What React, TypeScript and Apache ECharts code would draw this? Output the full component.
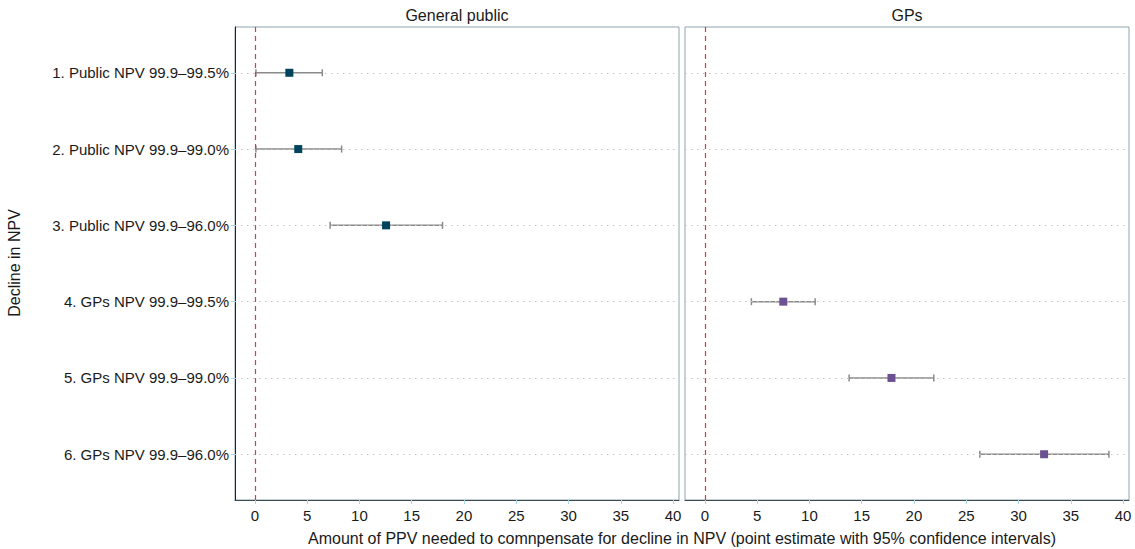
import React, { useEffect, useRef } from "react";
import * as echarts from "echarts";

const categories = [
  "1. Public NPV 99.9–99.5%",
  "2. Public NPV 99.9–99.0%",
  "3. Public NPV 99.9–96.0%",
  "4. GPs NPV 99.9–99.5%",
  "5. GPs NPV 99.9–99.0%",
  "6. GPs NPV 99.9–96.0%",
];
const panelOf = [0, 0, 0, 1, 1, 1];
const pointEstimates = [3.3, 4.15, 12.55, 7.5, 17.85, 32.45];
const ciLower = [0.1, 0.1, 7.2, 4.45, 13.8, 26.3];
const ciUpper = [6.45, 8.3, 17.95, 10.55, 21.9, 38.65];
const panelTitles = ["General public", "GPs"];
const xTicks = [0, 5, 10, 15, 20, 25, 30, 35, 40];
const rowValues = [1, 2, 3, 4, 5, 6];
const markerColors = ["#00435e", "#6b5191"];

const FONT = "Liberation Sans, Arial, Helvetica, sans-serif";

export default function App() {
  const ref = useRef<HTMLDivElement>(null);
  useEffect(() => {
    if (!ref.current) return;
    const chart = echarts.init(ref.current, null, { renderer: "svg" });
    const grids = [
      { left: 235, top: 27, width: 444, height: 473 },
      { left: 685, top: 27, width: 444, height: 473 },
    ].map((g) => ({ ...g, show: true, borderColor: "#8fa5ad", borderWidth: 1, containLabel: false }));

    const xAxes = [0, 1].map((i) => ({
      type: "value",
      gridIndex: i,
      min: -1.9,
      max: 40.57,
      axisLine: { show: true, onZero: false, lineStyle: { color: "#3b4a50", width: 1 } },
      axisTick: { show: true, customValues: xTicks, length: 4, lineStyle: { color: "#a9d6e3" } },
      axisLabel: { customValues: xTicks, color: "#1a1a1a", fontSize: 15, fontFamily: FONT, margin: 8 },
      splitLine: { show: false },
    }));

    const yAxes = [0, 1].map((i) => ({
      type: "value",
      gridIndex: i,
      min: 0.4,
      max: 6.6,
      inverse: true,
      axisLine: { show: i === 0, onZero: false, lineStyle: { color: "#222", width: 1 } },
      axisTick: { show: i === 0, customValues: rowValues, length: 4, lineStyle: { color: "#a9d6e3" } },
      axisLabel: {
        show: i === 0,
        customValues: rowValues,
        formatter: (v: number) => categories[Math.round(v) - 1] ?? "",
        color: "#1a1a1a",
        fontSize: 15,
        fontFamily: FONT,
        margin: 6,
      },
      splitLine: { show: false },
    }));

    const series: any[] = [];
    [0, 1].forEach((p) => {
      const idx = categories.map((_, i) => i).filter((i) => panelOf[i] === p);
      series.push({
        type: "scatter",
        xAxisIndex: p,
        yAxisIndex: p,
        z: 1,
        silent: true,
        symbolSize: 0,
        data: [],
        markLine: {
          silent: true,
          symbol: "none",
          label: { show: false },
          animation: false,
          data: [
            ...rowValues.map((r) => ({
              yAxis: r,
              lineStyle: { color: "#c4c4c4", type: [1.5, 4.5], width: 1.2 },
            })),
            { xAxis: 0, lineStyle: { color: "#e0383f", type: [5, 4], width: 1.2 } },
          ],
        },
      });
      series.push({
        type: "custom",
        xAxisIndex: p,
        yAxisIndex: p,
        z: 3,
        silent: true,
        data: idx.map((i) => [ciLower[i], ciUpper[i], i + 1]),
        encode: { x: [0, 1], y: 2 },
        renderItem: (params: any, api: any) => {
          const lo = api.coord([api.value(0), api.value(2)]);
          const hi = api.coord([api.value(1), api.value(2)]);
          const style = { stroke: "#8a8a8a", lineWidth: 1.5 };
          const cap = 3.5;
          return {
            type: "group",
            children: [
              { type: "line", shape: { x1: lo[0], y1: lo[1], x2: hi[0], y2: hi[1] }, style },
              { type: "line", shape: { x1: lo[0], y1: lo[1] - cap, x2: lo[0], y2: lo[1] + cap }, style },
              { type: "line", shape: { x1: hi[0], y1: hi[1] - cap, x2: hi[0], y2: hi[1] + cap }, style },
            ],
          };
        },
      });
      series.push({
        type: "scatter",
        xAxisIndex: p,
        yAxisIndex: p,
        z: 5,
        symbol: "rect",
        symbolSize: 8,
        itemStyle: { color: markerColors[p], opacity: 1, borderWidth: 0 },
        data: idx.map((i) => [pointEstimates[i], i + 1]),
      });
    });

    chart.setOption({
      animation: false,
      backgroundColor: "#ffffff",
      grid: grids,
      xAxis: xAxes,
      yAxis: yAxes,
      series,
      graphic: [
        ...panelTitles.map((t, i) => ({
          type: "text",
          x: 235 + i * 450 + 222,
          y: 15,
          style: { text: t, font: `16px ${FONT}`, fill: "#1a1a1a", align: "center", verticalAlign: "middle" },
        })),
        {
          type: "text",
          x: 682,
          y: 538,
          style: {
            text: "Amount of PPV needed to comnpensate for decline in NPV (point estimate with 95% confidence intervals)",
            font: `16px ${FONT}`,
            fill: "#1a1a1a",
            align: "center",
            verticalAlign: "middle",
          },
        },
        {
          type: "text",
          x: 14,
          y: 263,
          rotation: Math.PI / 2,
          style: {
            text: "Decline in NPV",
            font: `16px ${FONT}`,
            fill: "#1a1a1a",
            align: "center",
            verticalAlign: "middle",
          },
        },
      ],
    });
    return () => chart.dispose();
  }, []);
  return <div ref={ref} style={{ width: 1135, height: 549, position: "absolute", left: 0, top: 0 }} />;
}
